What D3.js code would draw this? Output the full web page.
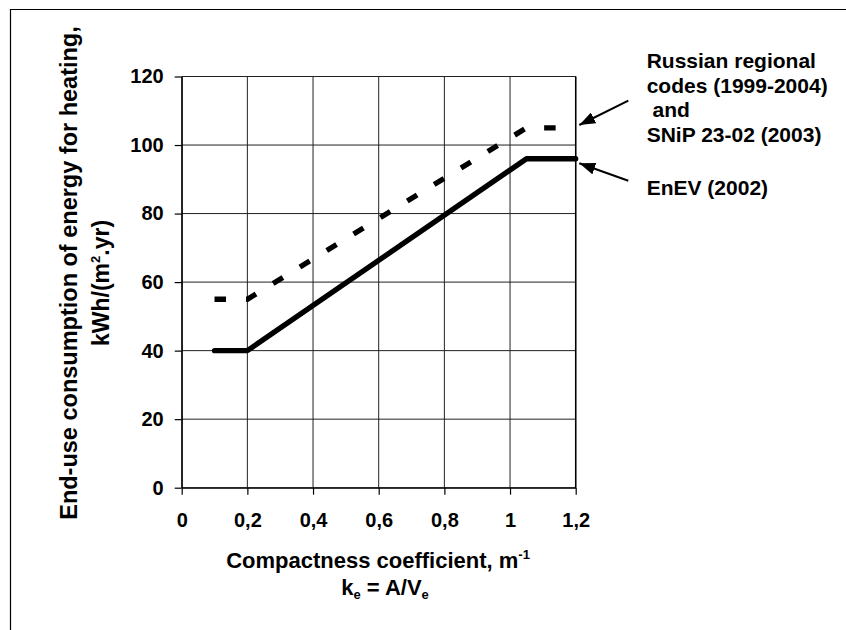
<!DOCTYPE html>
<html>
<head>
<meta charset="utf-8">
<script src="https://cdn.jsdelivr.net/npm/d3@7"></script>
<style>
  body { margin: 0; background: #fff; }
  text { font-family: Arial, "Liberation Sans", sans-serif; font-weight: bold; fill: #000; }
</style>
</head>
<body>
<script>
"use strict";

// data
const enevX = [0.1, 0.2, 1.05, 1.2];
const enevY = [40, 40, 96, 96];
const russianX = [0.1, 0.2, 1.05, 1.2];
const russianY = [55, 55, 105, 105];
const xTicks = [0, 0.2, 0.4, 0.6, 0.8, 1, 1.2];
const yTicks = [0, 20, 40, 60, 80, 100, 120];

const W = 846, H = 630;
const margin = {top: 76.5, left: 181.7, bottom: H - 487.7, right: W - 575.7};
const w = W - margin.left - margin.right;
const h = H - margin.top - margin.bottom;

const svg = d3.select('body')
    .append('svg')
    .attr('width', W)
    .attr('height', H);

// frame round the figure (top and left visible)
svg.append('path')
    .attr('d', 'M10.5,' + H + 'V9.5H' + W)
    .attr('fill', 'none')
    .attr('stroke', '#000')
    .attr('stroke-width', 1.2);

const g = svg.append('g')
    .attr('transform', 'translate(' + margin.left + ',' + margin.top + ')');

const x = d3.scaleLinear().domain([0, 1.2]).range([0, w]);
const y = d3.scaleLinear().domain([0, 120]).range([h, 0]);

const fmt = (d) => String(d).replace('.', ',');

// grid
g.append('g')
    .selectAll('line')
    .data(xTicks)
    .join('line')
    .attr('x1', (d) => x(d)).attr('x2', (d) => x(d))
    .attr('y1', 0).attr('y2', h)
    .attr('stroke', '#222').attr('stroke-width', 1);
g.append('g')
    .selectAll('line')
    .data(yTicks)
    .join('line')
    .attr('x1', 0).attr('x2', w)
    .attr('y1', (d) => y(d)).attr('y2', (d) => y(d))
    .attr('stroke', '#222').attr('stroke-width', 1);

// axes
const xAxis = g.append('g')
    .attr('transform', 'translate(0,' + h + ')')
    .call(d3.axisBottom(x).tickValues(xTicks).tickFormat(fmt).tickSizeInner(7).tickSizeOuter(0).tickPadding(18));
const yAxis = g.append('g')
    .call(d3.axisLeft(y).tickValues(yTicks).tickSizeInner(7).tickSizeOuter(0).tickPadding(11));
[xAxis, yAxis].forEach((a) => {
    a.select('.domain').attr('stroke', '#000').attr('stroke-width', 1.3);
    a.selectAll('.tick line').attr('stroke', '#000').attr('stroke-width', 1.2);
    a.selectAll('text')
        .attr('fill', '#000')
        .style('font-size', '20px')
        .style('font-family', 'Arial, "Liberation Sans", sans-serif')
        .style('font-weight', 'bold');
});
xAxis.selectAll('text').attr('dy', '0.71em');

// right border of the plot
g.append('line')
    .attr('x1', w).attr('x2', w).attr('y1', 0).attr('y2', h)
    .attr('stroke', '#000').attr('stroke-width', 1.5);

// series
const line = d3.line().x((d) => x(d[0])).y((d) => y(d[1]));
g.append('path')
    .datum(d3.zip(russianX, russianY))
    .attr('d', line)
    .attr('fill', 'none')
    .attr('stroke', '#000')
    .attr('stroke-width', 5.3)
    .attr('stroke-dasharray', '11.5,20');
g.append('path')
    .datum(d3.zip(enevX, enevY))
    .attr('d', line)
    .attr('fill', 'none')
    .attr('stroke', '#000')
    .attr('stroke-width', 5.3)
    .attr('stroke-linecap', 'round')
    .attr('stroke-linejoin', 'round');

// axis titles
const xt = svg.append('text')
    .attr('x', 378).attr('y', 568)
    .attr('text-anchor', 'middle')
    .style('font-size', '22px');
xt.append('tspan').text('Compactness coefficient, m');
xt.append('tspan').attr('dy', -9).style('font-size', '13px').text('-1');

const xt2 = svg.append('text')
    .attr('x', 385).attr('y', 595)
    .attr('text-anchor', 'middle')
    .style('font-size', '22px');
xt2.append('tspan').text('k');
xt2.append('tspan').attr('dy', 4).style('font-size', '13px').text('e');
xt2.append('tspan').attr('dy', -4).text(' = A/V');
xt2.append('tspan').attr('dy', 4).style('font-size', '13px').text('e');

svg.append('text')
    .attr('transform', 'translate(77,273) rotate(-90)')
    .attr('text-anchor', 'middle')
    .style('font-size', '23.5px')
    .text('End-use consumption of energy for heating,');
const yt2 = svg.append('text')
    .attr('transform', 'translate(108.5,283) rotate(-90)')
    .attr('text-anchor', 'middle')
    .style('font-size', '23px');
yt2.append('tspan').text('kWh/(m');
yt2.append('tspan').attr('dy', -9).style('font-size', '13px').text('2');
yt2.append('tspan').attr('dy', 9).text('.yr)');

// labels with arrows
const labelLines = ['Russian regional', 'codes (1999-2004)', '\u00a0and', 'SNiP 23-02 (2003)'];
svg.append('g')
    .selectAll('text')
    .data(labelLines)
    .join('text')
    .attr('x', 646.7)
    .attr('y', (d, i) => 68 + i * 24.5)
    .style('font-size', '21px')
    .text((d) => d);
svg.append('text')
    .attr('x', 646.7).attr('y', 195)
    .style('font-size', '21px')
    .text('EnEV (2002)');

svg.append('defs').append('marker')
    .attr('id', 'head')
    .attr('viewBox', '0 0 16 12')
    .attr('refX', 16).attr('refY', 6)
    .attr('markerWidth', 16).attr('markerHeight', 12)
    .attr('markerUnits', 'userSpaceOnUse')
    .attr('orient', 'auto')
    .append('path')
    .attr('d', 'M0,0L16,6L0,12Z')
    .attr('fill', '#000');

[[628.3, 100.7, 579.3, 125], [628.3, 180.7, 579.3, 163.3]].forEach((a) => {
    svg.append('line')
        .attr('x1', a[0]).attr('y1', a[1])
        .attr('x2', a[2]).attr('y2', a[3])
        .attr('stroke', '#000')
        .attr('stroke-width', 2)
        .attr('marker-end', 'url(#head)');
});
</script>
</body>
</html>
